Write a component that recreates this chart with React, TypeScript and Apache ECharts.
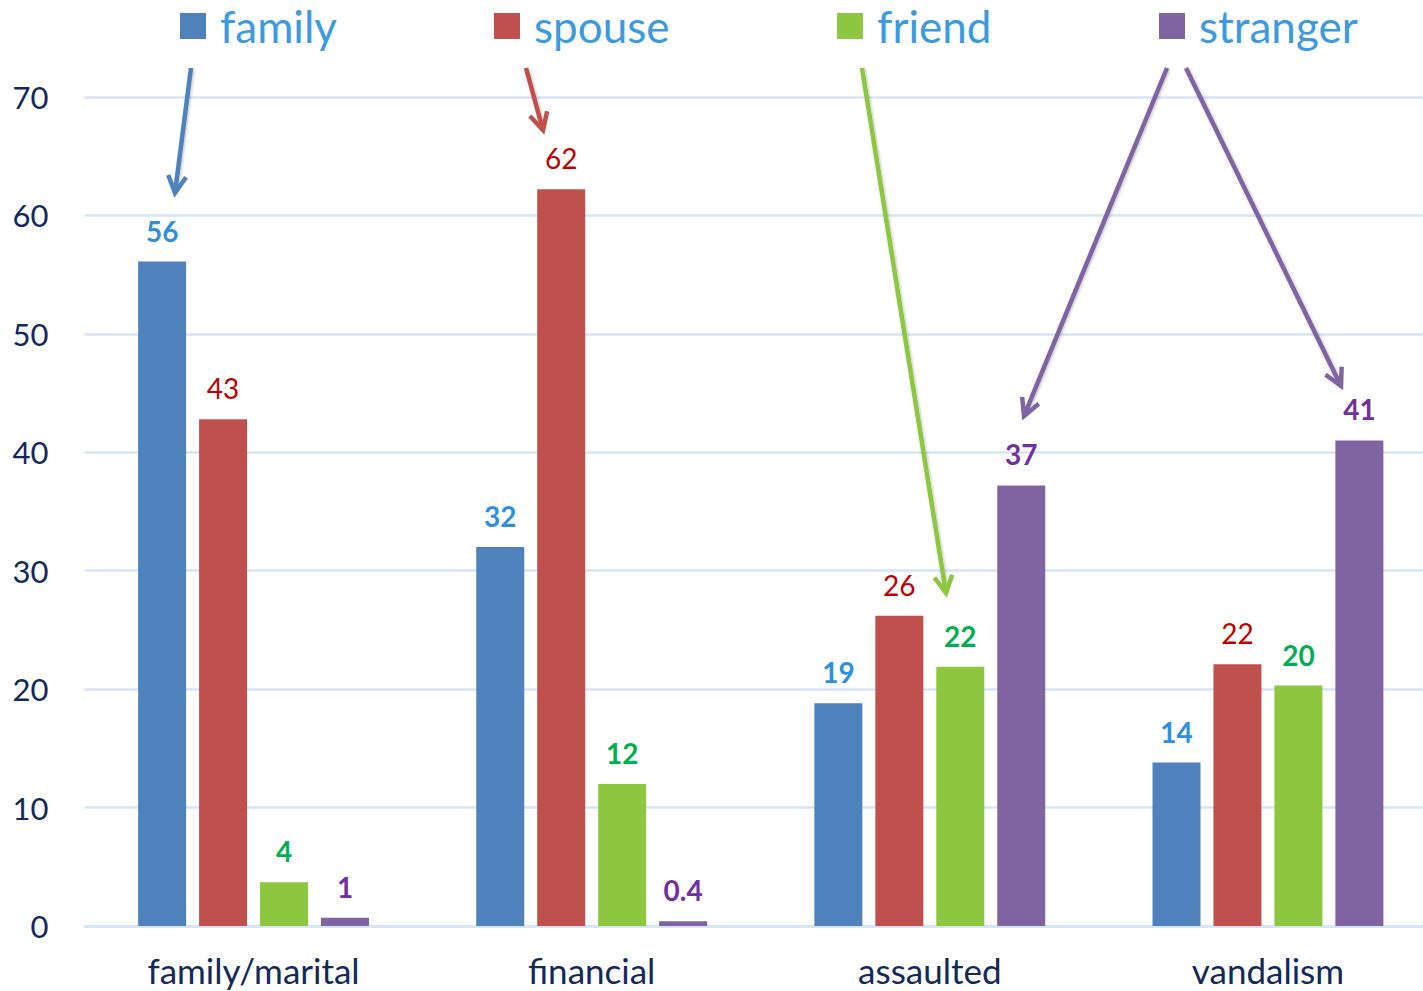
import React, { useEffect, useRef } from "react";
import * as echarts from "echarts";

const categories = ["family/marital", "financial", "assaulted", "vandalism"];
const seriesNames = ["family", "spouse", "friend", "stranger"];
const familyValues = [56.1, 32.0, 18.8, 13.8];
const spouseValues = [42.8, 62.2, 26.2, 22.1];
const friendValues = [3.7, 12.0, 21.9, 20.3];
const strangerValues = [0.7, 0.4, 37.2, 41.0];
const familyLabels = ["56", "32", "19", "14"];
const spouseLabels = ["43", "62", "26", "22"];
const friendLabels = ["4", "12", "22", "20"];
const strangerLabels = ["1", "0.4", "37", "41"];
const yTicks = [0, 10, 20, 30, 40, 50, 60, 70];

const FONT = "Lato, 'Open Sans', sans-serif";
const barColors = ["#4f81bd", "#c0504d", "#8dc63f", "#8064a2"];
const labelColors = ["#2e8fdf", "#c00000", "#00b050", "#7030a0"];
const labelWeights = ["bold", "normal", "bold", "bold"];
const legendLefts = [180, 494, 837, 1159];

// annotation arrows (pixel positions): [x1, y1, x2, y2, colorIndex]
const arrows: [number, number, number, number, number][] = [
  [191, 68, 175, 193, 0],
  [526, 68, 543, 130, 1],
  [862, 68, 946, 593, 2],
  [1167, 68, 1024, 416, 3],
  [1186, 68, 1341, 386, 3],
];

function arrowGraphics(x1: number, y1: number, x2: number, y2: number, color: string) {
  const dx = x2 - x1;
  const dy = y2 - y1;
  const len = Math.hypot(dx, dy);
  const ux = dx / len;
  const uy = dy / len;
  const head = 17;
  const half = 9;
  const bx = x2 - ux * head;
  const by = y2 - uy * head;
  const px = -uy;
  const py = ux;
  return [
    {
      type: "line",
      shape: { x1, y1, x2: x2 - ux * 2, y2: y2 - uy * 2 },
      style: { stroke: color, lineWidth: 4.5, shadowBlur: 3, shadowColor: "rgba(0,0,0,0.25)", shadowOffsetX: 1, shadowOffsetY: 1 },
      z: 100,
    },
    {
      type: "polyline",
      shape: {
        points: [
          [bx + px * half, by + py * half],
          [x2, y2],
          [bx - px * half, by - py * half],
        ],
      },
      style: { stroke: color, lineWidth: 4.5, fill: null, lineJoin: "miter" },
      z: 100,
    },
  ];
}

export default function App() {
  const ref = useRef<HTMLDivElement>(null);
  useEffect(() => {
    if (!ref.current) return;
    const chart = echarts.init(ref.current, null, { renderer: "svg" });
    const valueSets = [familyValues, spouseValues, friendValues, strangerValues];
    const labelSets = [familyLabels, spouseLabels, friendLabels, strangerLabels];
    const graphics: any[] = [];
    arrows.forEach((a) => {
      graphics.push(...arrowGraphics(a[0], a[1], a[2], a[3], barColors[a[4]]));
    });
    chart.setOption({
      animation: false,
      backgroundColor: "#ffffff",
      textStyle: { fontFamily: FONT },
      legend: seriesNames.map((n, i) => ({
        data: [n],
        left: legendLefts[i],
        top: 4,
        padding: 0,
        itemWidth: 26,
        itemHeight: 26,
        icon: "rect",
        selectedMode: false,
        textStyle: {
          color: "#3b9ae1",
          fontSize: 44,
          fontFamily: FONT,
          padding: [0, 0, 0, 9],
        },
      })),
      grid: { left: 84.5, top: 97, right: 0, bottom: 65, containLabel: false },
      xAxis: {
        type: "category",
        data: categories,
        axisTick: { show: false },
        axisLine: { lineStyle: { color: "#d5e5f6", width: 2.5 } },
        axisLabel: { color: "#12295a", fontSize: 35, margin: 26, fontFamily: FONT },
      },
      yAxis: {
        type: "value",
        min: yTicks[0],
        max: yTicks[yTicks.length - 1],
        interval: 10,
        axisLine: { show: false },
        axisTick: { show: false },
        splitLine: { lineStyle: { color: "#d5e5f6", width: 2.5 } },
        axisLabel: { color: "#12295a", fontSize: 31, margin: 36, fontFamily: FONT },
      },
      series: seriesNames.map((n, i) => ({
        name: n,
        type: "bar",
        data: valueSets[i],
        barWidth: 48,
        barGap: "27%",
        itemStyle: { color: barColors[i] },
        label: {
          show: true,
          position: "top",
          distance: 17,
          color: labelColors[i],
          fontWeight: labelWeights[i],
          fontSize: 28,
          fontFamily: FONT,
          formatter: (p: any) => labelSets[i][p.dataIndex],
        },
      })),
      graphic: graphics,
    });
    return () => chart.dispose();
  }, []);
  return (
    <div style={{ position: "absolute", left: 0, top: 0, width: 1423, height: 991, overflow: "hidden", background: "#fff" }}>
      <div ref={ref} style={{ width: 1437, height: 991 }} />
    </div>
  );
}
